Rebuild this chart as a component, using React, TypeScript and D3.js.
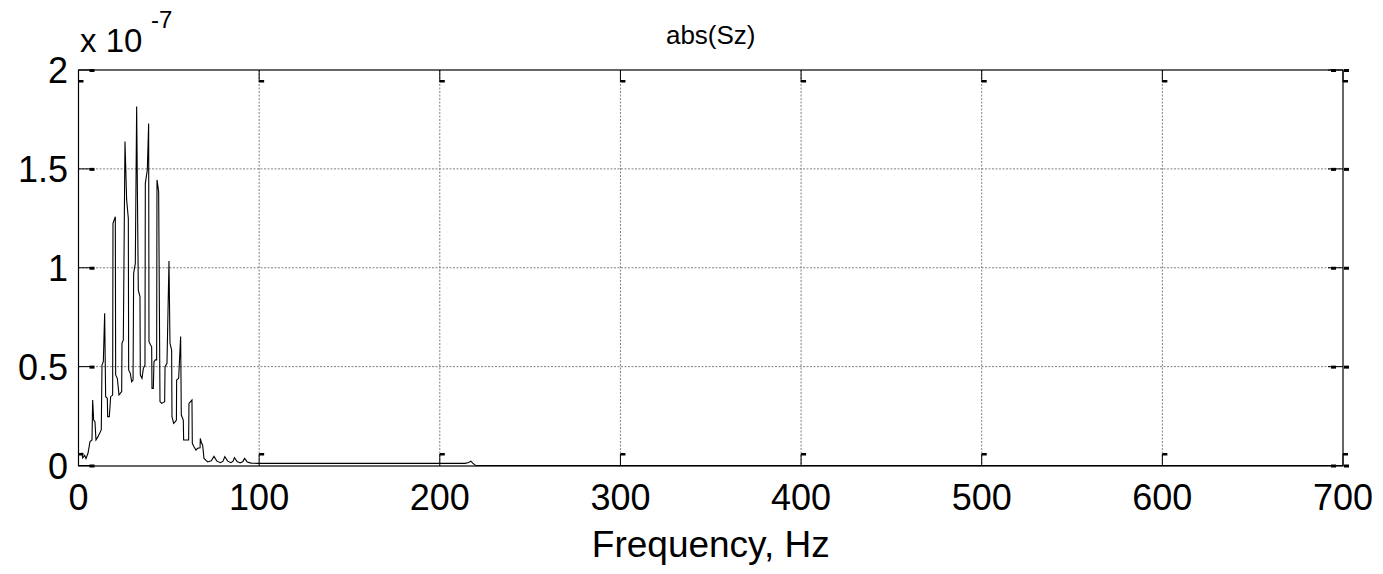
import React from "react";
import * as d3 from "d3";

// Spectrum |Sz| (units of 1e-7)
const freq: number[] = [
  0, 1.94, 2.31, 3.41, 4.15, 5.26, 6.36, 7.47, 7.84, 8.39, 9.11, 9.68, 10.79, 12.6, 13.01, 13.74, 14.48,
  15.03, 15.96, 16.14, 17.06, 17.8, 18.9, 19.09, 20.38, 20.57, 21.49, 22.41, 23.15, 23.9, 24.07, 24.81,
  25.73, 26.65, 27.58, 27.76, 28.68, 29.42, 30.2, 30.53, 31.45, 32.19, 33.11, 34.03, 34.22, 35.14, 35.88,
  36.8, 36.99, 38.09, 38.83, 39.02, 39.94, 40.5, 40.68, 41.42, 41.79, 42.53, 43.26, 43.45, 44.37, 45.11,
  46.03, 47.7, 47.9, 48.98, 50.09, 50.64, 51.56, 51.75, 52.67, 53.59, 54.2, 54.33, 55.44, 56.54, 56.91,
  58.02, 58.2, 60.97, 61.15, 62.81, 63.0, 63.92, 65.02, 65.95, 67.3, 67.42, 68.16, 68.72, 69.46,
  71.5, 73.5, 75.0, 76.6, 78.6, 80.0, 81.0, 82.6, 84.4, 85.6, 86.3, 87.8, 89.6, 91.0, 91.9, 93.4, 95.5,
  99, 150, 214, 216, 217.2, 218.2, 219.5, 220, 700,
];
const mag: number[] = [
  0.058, 0.062, 0.038, 0.051, 0.035, 0.062, 0.121, 0.129, 0.331, 0.23, 0.222, 0.129, 0.146, 0.18, 0.508, 0.525, 0.77,
  0.348, 0.34, 0.247, 0.247, 0.348, 0.356, 1.225, 1.258, 0.458, 0.441, 0.357, 0.365, 0.374, 0.618, 0.635,
  1.638, 1.343, 1.25, 0.483, 0.466, 0.424, 0.432, 0.972, 1.022, 1.815, 0.887, 0.854, 0.458, 0.441, 0.49,
  0.508, 1.427, 1.494, 1.73, 0.626, 0.609, 0.6, 0.39, 0.39, 0.525, 0.534, 0.534, 1.444, 1.385, 0.323,
  0.314, 0.323, 0.5, 0.517, 1.034, 0.618, 0.584, 0.247, 0.213, 0.222, 0.23, 0.432, 0.441, 0.652, 0.255,
  0.23, 0.129, 0.129, 0.314, 0.331, 0.112, 0.095, 0.078, 0.087, 0.09, 0.137, 0.112, 0.104, 0.036,
  0.018, 0.024, 0.046, 0.022, 0.014, 0.022, 0.045, 0.022, 0.014, 0.022, 0.04, 0.02, 0.013, 0.02, 0.036, 0.018, 0.012,
  0.011, 0.011, 0.011, 0.015, 0.022, 0.012, 0.003, 0, 0,
];

const xTicks: number[] = [0, 100, 200, 300, 400, 500, 600, 700];
const yTicks: number[] = [0, 0.5, 1, 1.5, 2];
const yTickLabels: string[] = ["0", "0.5", "1", "1.5", "2"];
const titleText = "abs(Sz)";
const xLabelText = "Frequency, Hz";

const W = 1383;
const H = 574;
const L = 78.5;
const R = 1343;
const T = 70;
const B = 466;
const FONT = "'Liberation Sans', Arial, Helvetica, sans-serif";
const TICK_FS = 36;

export default function App() {
  const x = d3.scaleLinear().domain([0, 700]).range([L, R]);
  const y = d3.scaleLinear().domain([0, 2]).range([465.5, T]);
  const pts: [number, number][] = freq.map((f, i) => [f, mag[i]]);
  const line = d3
    .line<[number, number]>()
    .x((d) => x(d[0]))
    .y((d) => y(d[1]));

  return (
    <svg
      width={W}
      height={H}
      style={{ position: "absolute", left: 0, top: 0, display: "block", background: "#fff" }}
      fontFamily={FONT}
    >
      <rect x={0} y={0} width={W} height={H} fill="#fff" />
      {/* grid */}
      {xTicks.slice(1, -1).map((t) => (
        <line
          key={"gx" + t}
          x1={x(t)}
          x2={x(t)}
          y1={T}
          y2={B}
          stroke="#808080"
          strokeWidth={1}
          strokeDasharray="2,1.5"
        />
      ))}
      {yTicks.slice(1, -1).map((t) => (
        <line
          key={"gy" + t}
          x1={L}
          x2={R}
          y1={y(t)}
          y2={y(t)}
          stroke="#808080"
          strokeWidth={1}
          strokeDasharray="2,1.5"
        />
      ))}
      {/* data */}
      <path d={line(pts) || ""} fill="none" stroke="#000" strokeWidth={1.1} strokeLinejoin="miter" />
      {/* box */}
      <rect x={L} y={T} width={R - L} height={B - T} fill="none" stroke="#000" strokeWidth={1.2} />
      {/* x ticks */}
      {xTicks.map((t) => (
        <g key={"tx" + t}>
          <line x1={x(t)} x2={x(t)} y1={B} y2={B - 12} stroke="#000" strokeWidth={1} />
          <rect x={x(t)} y={B - 13} width={5} height={2.5} fill="#000" />
          <line x1={x(t)} x2={x(t)} y1={T} y2={T + 12} stroke="#000" strokeWidth={1} />
          <rect x={x(t)} y={T + 10} width={5} height={2.5} fill="#000" />
          <text x={x(t)} y={510} textAnchor="middle" fontSize={TICK_FS} fill="#000">
            {String(t)}
          </text>
        </g>
      ))}
      {/* y ticks */}
      {yTicks.map((t, i) => (
        <g key={"ty" + t}>
          <line x1={L} x2={L + 15} y1={y(t)} y2={y(t)} stroke="#000" strokeWidth={1} />
          <rect x={L + 11} y={y(t) - 1} width={5} height={3} fill="#000" />
          <line x1={R} x2={R - 15} y1={y(t)} y2={y(t)} stroke="#000" strokeWidth={1} />
          <rect x={R - 12} y={y(t) - 1} width={5} height={3} fill="#000" />
          <rect x={R + 1} y={y(t) - 1} width={5} height={3} fill="#000" />
          <text x={68} y={y(t) + 13} textAnchor="end" fontSize={TICK_FS} fill="#000">
            {yTickLabels[i]}
          </text>
        </g>
      ))}
      {/* exponent */}
      <text x={80} y={52} fontSize={33} fill="#000">
        x 10
      </text>
      <text x={151} y={28} fontSize={24} fill="#000">
        -7
      </text>
      {/* title */}
      <text x={(L + R) / 2} y={44} textAnchor="middle" fontSize={26} fill="#000">
        {titleText}
      </text>
      {/* x label */}
      <text x={(L + R) / 2} y={557} textAnchor="middle" fontSize={37} fill="#000">
        {xLabelText}
      </text>
    </svg>
  );
}
